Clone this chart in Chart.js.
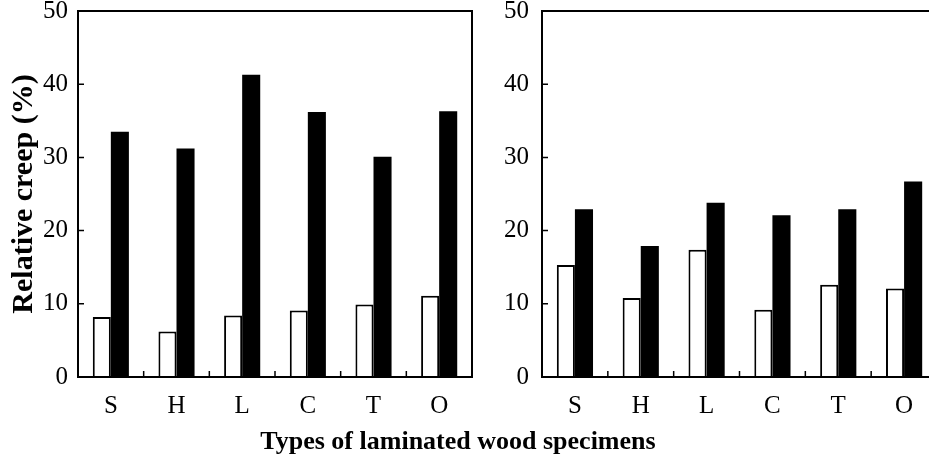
<!DOCTYPE html>
<html>
<head>
<meta charset="utf-8">
<script src="https://cdn.jsdelivr.net/npm/chart.js@4/dist/chart.umd.min.js"></script>
<style>
  html, body { margin: 0; padding: 0; background: #fff; overflow: hidden; width: 929px; height: 461px; }
  canvas { position: absolute; top: 0; }
  #left { left: 0; }
  #right { left: 475px; }
  #xtitle {
    position: absolute; left: 0; top: 427px; width: 916px; text-align: center;
    font: bold 26px "Liberation Serif", serif; line-height: 28px; color: #000;
  }
</style>
</head>
<body>
<canvas id="left" width="480" height="461"></canvas>
<canvas id="right" width="470" height="461"></canvas>
<div id="xtitle">Types of laminated wood specimens</div>
<script>
// data
const categories = ["S", "H", "L", "C", "T", "O"];
const leftWhite  = [8.2, 6.2, 8.4, 9.1, 9.9, 11.1];
const leftBlack  = [33.5, 31.2, 41.3, 36.2, 30.1, 36.3];
const rightWhite = [15.3, 10.8, 17.4, 9.2, 12.6, 12.1];
const rightBlack = [22.9, 17.9, 23.8, 22.1, 22.9, 26.7];
const yTicks = [0, 10, 20, 30, 40, 50];

const serif = "'Liberation Serif', 'Times New Roman', serif";

// frame around the plot + small inward ticks
const framePlugin = {
    id: "frame",
    afterDraw(chart) {
        const ctx = chart.ctx, a = chart.chartArea;
        const xs = chart.scales.x, ys = chart.scales.y;
        ctx.save();
        ctx.strokeStyle = "#000";
        ctx.lineWidth = 2;
        ctx.strokeRect(a.left, a.top, a.right - a.left, a.bottom - a.top);
        ctx.lineWidth = 1.5;
        ctx.beginPath();
        for (let i = 1; i < categories.length; i++) {
            const x = (xs.getPixelForValue(i - 1) + xs.getPixelForValue(i)) / 2;
            ctx.moveTo(x, a.bottom);
            ctx.lineTo(x, a.bottom - 6);
        }
        yTicks.slice(1, -1).forEach(v => {
            const y = ys.getPixelForValue(v);
            ctx.moveTo(a.left, y);
            ctx.lineTo(a.left + 6, y);
        });
        ctx.stroke();
        ctx.restore();
    }
};

function makeChart(id, white, black, yWidth, showTitle, labelPad) {
    return new Chart(document.getElementById(id), {
        type: "bar",
        data: {
            labels: categories,
            datasets: [
                { label: "Series 1", data: white, backgroundColor: "#fff", borderColor: "#000", borderWidth: 2 },
                { label: "Series 2", data: black, backgroundColor: "#000", borderColor: "#000", borderWidth: 0 }
            ]
        },
        options: {
            responsive: false,
            animation: false,
            categoryPercentage: 0.55,
            barPercentage: 1.0,
            layout: { padding: { top: 11, right: 8, left: 0, bottom: 0 } },
            plugins: { legend: { display: false }, tooltip: { enabled: false } },
            scales: {
                x: {
                    grid: { display: false, drawTicks: false },
                    border: { display: false },
                    ticks: { color: "#000", padding: 14, font: { family: serif, size: 25 } },
                    afterFit(s) { s.height = 84; s.paddingLeft = 0; s.paddingRight = 0; }
                },
                y: {
                    min: 0, max: 50,
                    grid: { display: false, drawTicks: false },
                    border: { display: false },
                    afterBuildTicks(s) { s.ticks = yTicks.map(v => ({ value: v })); },
                    ticks: { color: "#000", padding: labelPad, font: { family: serif, size: 25 } },
                    title: {
                        display: showTitle,
                        text: "Relative creep (%)",
                        color: "#000",
                        padding: { top: 6 },
                        font: { family: serif, size: 30, weight: "bold" }
                    },
                    afterFit(s) { s.width = yWidth; s.paddingTop = 0; s.paddingBottom = 0; }
                }
            }
        },
        plugins: [framePlugin]
    });
}

const leftChart = makeChart("left", leftWhite, leftBlack, 78, true, 10);
const rightChart = makeChart("right", rightWhite, rightBlack, 67, false, 13);
</script>
</body>
</html>
